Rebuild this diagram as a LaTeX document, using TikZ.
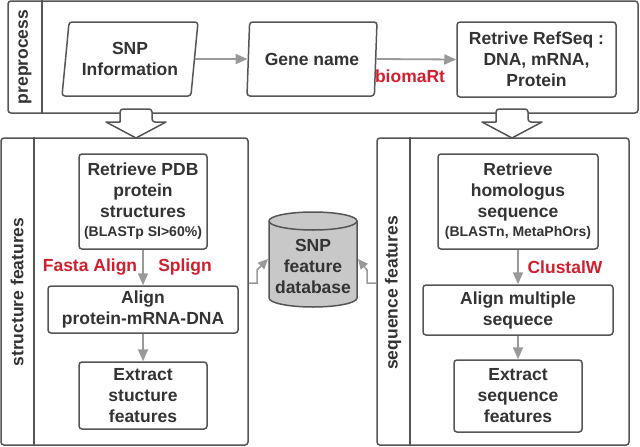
\documentclass[tikz,border=0pt]{standalone}
\usepackage{fontspec}
\setmainfont{Liberation Sans}
\usetikzlibrary{shapes.geometric,arrows.meta}
\definecolor{boxc}{HTML}{555555}
\definecolor{txtc}{HTML}{333333}
\definecolor{arrc}{HTML}{999999}
\definecolor{redc}{HTML}{D01F2E}
\definecolor{cylc}{HTML}{C8C8C8}
\tikzset{
 lbl/.style={font=\bfseries\fontsize{17.5}{21}\selectfont, text=txtc, align=center},
 stepbox/.style={lbl, draw=boxc, line width=1.5pt, rounded corners=3pt, fill=white, inner sep=0pt},
 frame/.style={draw=boxc, line width=1.5pt, rounded corners=3pt, inner sep=0pt},
 divider/.style={draw=boxc, line width=1.5pt},
 flow/.style={draw=arrc, line width=1.8pt, -{Triangle[length=12pt,width=10pt]}},
 dbflow/.style={draw=arrc, line width=1.5pt, -{Triangle[length=10pt,width=9pt]}},
 redlbl/.style={font=\bfseries\fontsize{17.5}{21}\selectfont, text=redc},
 para/.style={stepbox, trapezium, trapezium left angle=78, trapezium right angle=102, trapezium stretches body},
 blockarrow/.style={draw=boxc, line width=1.5pt, fill=white, line join=round},
 cyl/.style={draw=boxc, line width=1.5pt, fill=cylc}
}
\newcommand{\smalltxt}[1]{{\fontsize{14}{16}\selectfont #1}}
\begin{document}
\begin{tikzpicture}[x=1pt,y=-1pt]
\useasboundingbox (0,0) rectangle (640,447);

% containers
\node[frame, minimum width=630pt, minimum height=112pt] (pre) at (323,57) {};
\draw[divider] (pre.north -| 42,0) -- (pre.south -| 42,0);
\node[lbl, rotate=90] (prelbl) at (25,57) {preprocess};

\node[frame, minimum width=247pt, minimum height=307pt] (st) at (124.5,291.5) {};
\draw[divider] (st.north -| 34,0) -- (st.south -| 34,0);
\node[lbl, rotate=90] (stlbl) at (17,292) {structure features};

\node[frame, minimum width=252pt, minimum height=307pt] (sq) at (503,291.5) {};
\draw[divider] (sq.north -| 410,0) -- (sq.south -| 410,0);
\node[lbl, rotate=90] (sqlbl) at (393,293) {sequence features};

% block arrows
\draw[blockarrow] (106,122) -- (120,122) [rounded corners=3pt] -- (120,109) -- (152,109) -- (152,122) [sharp corners] -- (166,122) -- (136,138) -- cycle;
\draw[blockarrow] (482,122) -- (496,122) [rounded corners=3pt] -- (496,109) -- (528,109) -- (528,122) [sharp corners] -- (542,122) -- (512,138) -- cycle;

% preprocess nodes
\node[para, minimum width=136pt, minimum height=74pt] (snp) at (130,59) {SNP\\Information};
\node[para, minimum width=130pt, minimum height=74pt] (gene) at (312,59) {Gene name};
\node[stepbox, minimum width=159pt, minimum height=75pt] (ref) at (536.5,59.5) {Retrive RefSeq :\\DNA, mRNA,\\Protein};
\draw[flow] (snp.east) -- (gene.west);
\draw[flow] (gene.east) -- (ref.west);
\node[redlbl] (biomart) at (410,76) {biomaRt};

% structure features
\node[stepbox, minimum width=128pt, minimum height=95pt] (pdb) at (143,201.5) {Retrieve PDB\\protein\\structures\\[-2pt]\smalltxt{(BLASTp SI>60\%)}};
\node[stepbox, minimum width=190pt, minimum height=47pt] (alns) at (143,309.5) {Align\\protein-mRNA-DNA};
\node[stepbox, minimum width=128pt, minimum height=67pt] (exs) at (143,395.5) {Extract\\stucture\\features};
\draw[flow] (pdb.south) -- (alns.north);
\draw[flow] (alns.south) -- (exs.north);
\node[redlbl] (fasta) at (90,267) {Fasta Align};
\node[redlbl] (splign) at (185,267) {Splign};

% sequence features
\node[stepbox, minimum width=160pt, minimum height=95pt] (hom) at (518,201.5) {Retrieve\\homologus\\sequence\\[-2pt]\smalltxt{(BLASTn, MetaPhOrs)}};
\node[stepbox, minimum width=190pt, minimum height=50pt] (alnm) at (518,310) {Align multiple\\sequece};
\node[stepbox, minimum width=128pt, minimum height=72pt] (exq) at (518,396) {Extract\\sequence\\features};
\draw[flow] (hom.south) -- (alnm.north);
\draw[flow] (alnm.south) -- (exq.north);
\node[redlbl] (clustal) at (565,267) {ClustalW};

% database cylinder
\draw[cyl] (269,221) -- (269,298) arc[start angle=180,end angle=360,x radius=44pt,y radius=9pt] -- (357,221) arc[start angle=0,end angle=180,x radius=44pt,y radius=9pt] -- cycle;
\draw[boxc, line width=1.5pt] (269,221) arc[start angle=180,end angle=360,x radius=44pt,y radius=9pt];
\node[lbl] (db) at (313,266) {SNP\\feature\\database};
\coordinate (dbL) at (268,259);
\coordinate (dbR) at (358,259);
\draw[dbflow] (st.east |- 0,283) -- (257,283) -- (257,270) -- (dbL);
\draw[dbflow] (sq.west |- 0,283) -- (367,283) -- (367,270) -- (dbR);
\end{tikzpicture}
\end{document}
